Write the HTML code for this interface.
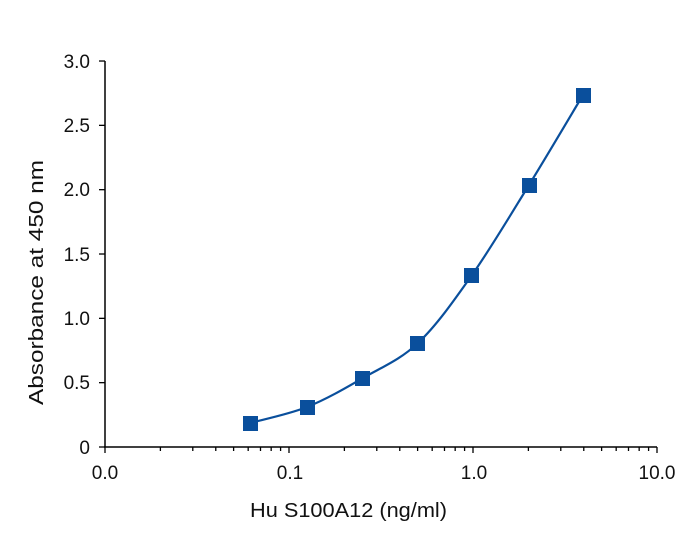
<!DOCTYPE html>
<html><head><style>
body{margin:0;background:#fff;}
svg text{font-family:"Liberation Sans",sans-serif;fill:#111;}
</style></head><body>
<svg id="s" width="700" height="552" xmlns="http://www.w3.org/2000/svg">
<g stroke="#000" stroke-width="1.5" fill="none">
<line x1="105" y1="61" x2="105" y2="447"/>
<line x1="104" y1="447" x2="657" y2="447"/>
</g>
<g id="ticks" stroke="#000" stroke-width="1.3"></g>
<g font-size="19" text-anchor="end">
<text x="90" y="68">3.0</text>
<text x="90" y="132">2.5</text>
<text x="90" y="196">2.0</text>
<text x="90" y="261">1.5</text>
<text x="90" y="325">1.0</text>
<text x="90" y="389">0.5</text>
<text x="90" y="454">0</text>
</g>
<g font-size="19" text-anchor="middle">
<text x="105" y="479">0.0</text>
<text x="290" y="479">0.1</text>
<text x="474" y="479">1.0</text>
<text x="657" y="479">10.0</text>
</g>
<text x="250" y="517" font-size="20" textLength="197" lengthAdjust="spacingAndGlyphs">Hu S100A12 (ng/ml)</text>
<text transform="translate(43,405) rotate(-90)" font-size="20" textLength="245" lengthAdjust="spacingAndGlyphs">Absorbance at 450 nm</text>
<path d="M250,423 C259.5,420.3 288.2,414.5 307,407 C325.8,399.5 344.5,388.7 363,378 C381.5,367.3 399.8,360.2 418,343 C436.2,325.8 453.5,301.3 472,275 C490.5,248.7 510.5,215 529,185 C547.5,155 574,110 583,95" stroke="#0a4f9c" stroke-width="2.2" fill="none"/>
<g fill="#0a4f9c">
<rect x="243" y="416" width="15" height="15"/>
<rect x="300" y="400" width="15" height="15"/>
<rect x="355" y="371" width="15" height="15"/>
<rect x="410" y="336" width="15" height="15"/>
<rect x="464" y="268" width="15" height="15"/>
<rect x="522" y="178" width="15" height="15"/>
<rect x="576" y="88" width="15" height="15"/>
</g>
</svg>
<script>
var g=document.getElementById('ticks'),h='';
for(var i=0;i<=6;i++){var y=447-i*64.33;h+='<line x1="99" y1="'+y+'" x2="105" y2="'+y+'"/>';}
for(var d=0;d<3;d++){for(var k=1;k<=10;k++){if(d<2&&k==10)continue;var x=105+184*(d+Math.log10(k));var L=(k==1||k==10)?6:4;h+='<line x1="'+x+'" y1="447" x2="'+x+'" y2="'+(447+L)+'"/>';}}
g.innerHTML=h;
</script>
</body></html>
